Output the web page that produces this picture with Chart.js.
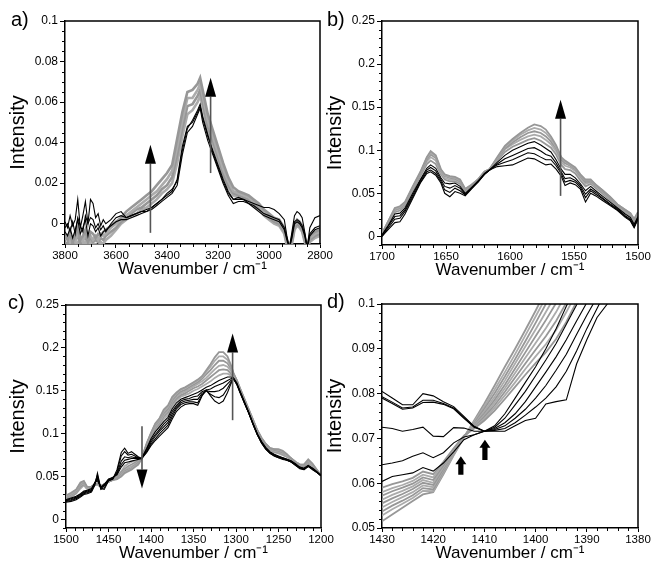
<!DOCTYPE html>
<html><head><meta charset="utf-8">
<script src="https://cdn.jsdelivr.net/npm/chart.js@4"></script>
<style>
html,body{margin:0;padding:0;background:#fff;overflow:hidden;width:653px;height:569px;}
.p{position:absolute;}
.lbl{position:absolute;font-family:'Liberation Sans',Arial,sans-serif;font-size:20px;line-height:20px;color:#000;}
</style></head><body>
<div class="p" style="left:0;top:0"><canvas id="ca" width="335" height="284"></canvas></div>
<div class="p" style="left:317px;top:0"><canvas id="cb" width="336" height="285"></canvas></div>
<div class="p" style="left:0;top:284px"><canvas id="cc" width="336" height="284"></canvas></div>
<div class="p" style="left:317px;top:283px"><canvas id="cd" width="336" height="285"></canvas></div>
<div class="lbl" style="left:11px;top:9px">a)</div>
<div class="lbl" style="left:327px;top:9px">b)</div>
<div class="lbl" style="left:8px;top:292px">c)</div>
<div class="lbl" style="left:327px;top:291px">d)</div>
<script>
// ---------- Panel a ----------
const waveA = [3800,3790,3780,3770,3760,3750,3740,3730,3720,3710,3700,3690,3680,3670,3660,3650,3640,
  3620,3600,3580,3560,3540,3520,3500,3480,3460,3440,3420,3400,3380,3360,3340,3320,3300,3280,
  3270,3260,
  3240,3220,3200,3180,3160,3140,3120,3100,3080,3060,3040,3020,3000,2980,2960,2940,
  2930,2920,2910,2900,2890,2880,2870,2860,2850,2840,
  2820,2800];
const blackA1 = [0.001,-0.002,0.004,-0.001,0.002,0.012,-0.002,0.004,0.011,0.000,0.012,0.010,0.003,0.005,-0.001,0.002,0.000,
  0.002,0.005,0.006,0.003,0.004,0.005,0.006,0.007,0.008,0.010,0.012,0.014,0.016,0.022,0.038,0.048,0.050,0.055,
  0.058,0.052,
  0.043,0.036,0.029,0.022,0.016,0.012,0.012,0.012,0.011,0.010,0.009,0.008,0.008,0.007,0.005,0.002,
  -0.006,-0.012,-0.004,0.004,0.006,0.005,0.003,-0.004,-0.012,-0.002,
  0.003,0.004];
const blackA2 = [-0.004,-0.006,-0.002,-0.007,-0.003,0.002,-0.005,-0.002,0.002,-0.006,0.000,-0.001,-0.004,-0.002,-0.006,-0.004,-0.003,
  -0.001,0.001,0.002,0.002,0.003,0.004,0.005,0.006,0.007,0.009,0.011,0.013,0.015,0.019,0.034,0.045,0.048,0.054,
  0.057,0.050,
  0.041,0.034,0.027,0.020,0.014,0.010,0.011,0.011,0.010,0.008,0.006,0.004,0.003,0.002,0.001,-0.003,
  -0.008,-0.012,-0.007,0.000,0.001,0.000,-0.002,-0.006,-0.012,-0.006,
  -0.003,-0.002];
const blackA3 = [-0.002,0.000,-0.004,0.001,-0.005,0.003,-0.001,-0.004,0.004,0.000,0.003,0.002,-0.002,0.000,-0.003,-0.001,-0.004,
  0.000,0.003,0.004,0.003,0.004,0.005,0.006,0.006,0.008,0.010,0.012,0.015,0.017,0.021,0.036,0.047,0.051,0.056,
  0.059,0.053,
  0.044,0.035,0.028,0.021,0.015,0.012,0.013,0.012,0.010,0.009,0.007,0.005,0.004,0.003,0.002,-0.002,
  -0.007,-0.012,-0.006,0.001,0.002,0.001,-0.001,-0.005,-0.012,-0.005,
  -0.002,-0.001];
const grayA1 = [-0.006,-0.008,-0.005,-0.009,-0.006,-0.002,-0.008,-0.006,-0.003,-0.008,-0.004,-0.005,-0.007,-0.005,-0.006,-0.004,-0.003,
  -0.001,0.001,0.003,0.006,0.008,0.010,0.012,0.014,0.016,0.019,0.022,0.025,0.029,0.042,0.055,0.065,0.066,0.069,
  0.072,0.066,
  0.054,0.046,0.038,0.030,0.023,0.018,0.016,0.015,0.014,0.012,0.010,0.007,0.005,0.003,0.002,-0.002,
  -0.008,-0.012,-0.007,0.000,0.002,0.001,-0.001,-0.006,-0.012,-0.006,
  -0.004,-0.003];
const grayA2 = [-0.008,-0.006,-0.009,-0.007,-0.009,-0.004,-0.007,-0.009,-0.005,-0.007,-0.006,-0.008,-0.006,-0.008,-0.005,-0.006,-0.005,
  -0.002,0.000,0.002,0.004,0.006,0.008,0.010,0.012,0.014,0.016,0.019,0.022,0.026,0.038,0.051,0.062,0.062,0.066,
  0.069,0.063,
  0.051,0.043,0.035,0.027,0.021,0.016,0.015,0.014,0.013,0.011,0.009,0.006,0.004,0.002,0.001,-0.003,
  -0.009,-0.012,-0.008,-0.001,0.001,0.000,-0.002,-0.007,-0.012,-0.007,
  -0.005,-0.004];
const grayA3 = [-0.009,-0.010,-0.008,-0.010,-0.008,-0.006,-0.010,-0.008,-0.007,-0.009,-0.007,-0.009,-0.008,-0.009,-0.007,-0.008,-0.006,
  -0.004,-0.002,0.001,0.003,0.005,0.007,0.008,0.010,0.012,0.014,0.017,0.019,0.023,0.034,0.047,0.058,0.059,0.063,
  0.066,0.060,
  0.048,0.041,0.033,0.025,0.019,0.015,0.014,0.013,0.012,0.010,0.008,0.005,0.003,0.001,0.000,-0.004,
  -0.010,-0.012,-0.009,-0.002,0.000,-0.001,-0.003,-0.008,-0.012,-0.008,
  -0.006,-0.005];
const grayA4 = [-0.010,-0.011,-0.010,-0.011,-0.010,-0.009,-0.011,-0.010,-0.009,-0.011,-0.009,-0.010,-0.010,-0.011,-0.009,-0.010,-0.008,
  -0.006,-0.003,0.000,0.002,0.004,0.005,0.007,0.008,0.010,0.012,0.015,0.017,0.020,0.030,0.043,0.054,0.056,0.060,
  0.063,0.058,
  0.046,0.039,0.031,0.024,0.018,0.014,0.013,0.012,0.011,0.009,0.007,0.004,0.002,0.000,-0.001,-0.005,
  -0.011,-0.012,-0.010,-0.003,-0.001,-0.002,-0.004,-0.009,-0.012,-0.009,
  -0.007,-0.006];
const xTicksA = [3800,3600,3400,3200,3000,2800];
const yTicksA = [0,0.02,0.04,0.06,0.08,0.1];
const arrowsA = [{x:3465, from:-0.0045, to:0.039}, {x:3229, from:0.025, to:0.072}];

// ---------- Panel b ----------
const waveB = [1700,1695,1690,1686,1682, 1676,1670,1665,1662,1658, 1654,1651,1647,1643,1639,
  1635,1630,1625,1620,1616, 1610,1604,1598,1592,1586, 1581,1576,1572,1568,1564,
  1560,1557,1553,1549,1545, 1541,1537,1533,1528,1522, 1516,1510,1506,1503,1500];
const blackB1 = [0.000,0.008,0.016,0.017,0.026, 0.044,0.062,0.073,0.075,0.071, 0.062,0.050,0.046,0.052,0.050,
  0.047,0.055,0.063,0.072,0.077, 0.081,0.082,0.083,0.087,0.091, 0.090,0.086,0.083,0.084,0.078,
  0.070,0.059,0.062,0.060,0.055, 0.040,0.050,0.047,0.042,0.036, 0.030,0.022,0.018,0.010,0.020];
const blackB2 = [0.000,0.010,0.020,0.021,0.029, 0.046,0.063,0.075,0.077,0.073, 0.064,0.054,0.051,0.056,0.053,
  0.048,0.056,0.063,0.072,0.077, 0.083,0.086,0.089,0.093,0.097, 0.096,0.092,0.089,0.089,0.082,
  0.073,0.063,0.065,0.063,0.057, 0.045,0.053,0.049,0.044,0.037, 0.031,0.023,0.019,0.011,0.021];
const blackB3 = [0.001,0.012,0.023,0.024,0.031, 0.048,0.065,0.077,0.080,0.076, 0.066,0.058,0.056,0.059,0.056,
  0.049,0.056,0.064,0.072,0.077, 0.084,0.090,0.094,0.098,0.102, 0.103,0.099,0.095,0.093,0.085,
  0.075,0.067,0.068,0.065,0.059, 0.049,0.055,0.051,0.045,0.038, 0.032,0.024,0.020,0.012,0.022];
const blackB4 = [0.002,0.013,0.026,0.027,0.033, 0.050,0.066,0.079,0.083,0.079, 0.068,0.062,0.061,0.062,0.058,
  0.050,0.057,0.064,0.073,0.077, 0.086,0.094,0.100,0.104,0.108, 0.110,0.106,0.102,0.098,0.089,
  0.078,0.072,0.072,0.068,0.061, 0.053,0.058,0.053,0.047,0.040, 0.033,0.026,0.022,0.014,0.023];
const grayB1 = [0.003,0.018,0.033,0.035,0.040, 0.058,0.075,0.092,0.099,0.094, 0.078,0.072,0.070,0.069,0.066,
  0.055,0.060,0.066,0.075,0.078, 0.092,0.105,0.113,0.120,0.126, 0.130,0.128,0.124,0.116,0.106,
  0.092,0.088,0.084,0.080,0.072, 0.066,0.066,0.060,0.054,0.046, 0.037,0.031,0.027,0.020,0.028];
const grayB2 = [0.003,0.018,0.032,0.034,0.039, 0.057,0.074,0.091,0.097,0.093, 0.077,0.071,0.069,0.068,0.065,
  0.055,0.060,0.066,0.075,0.078, 0.091,0.104,0.111,0.118,0.123, 0.126,0.124,0.120,0.113,0.104,
  0.091,0.087,0.083,0.079,0.071, 0.065,0.065,0.060,0.054,0.046, 0.037,0.031,0.027,0.020,0.028];
const grayB3 = [0.003,0.017,0.031,0.033,0.038, 0.056,0.073,0.089,0.095,0.091, 0.076,0.070,0.068,0.067,0.064,
  0.054,0.059,0.066,0.075,0.078, 0.090,0.102,0.109,0.115,0.120, 0.122,0.120,0.116,0.110,0.102,
  0.089,0.085,0.082,0.078,0.070, 0.063,0.064,0.059,0.053,0.045, 0.036,0.030,0.026,0.019,0.027];
const grayB4 = [0.002,0.016,0.030,0.032,0.037, 0.055,0.072,0.087,0.092,0.088, 0.074,0.068,0.066,0.066,0.063,
  0.053,0.059,0.065,0.074,0.078, 0.089,0.101,0.107,0.112,0.116, 0.118,0.116,0.112,0.107,0.099,
  0.086,0.082,0.080,0.076,0.068, 0.061,0.063,0.058,0.052,0.044, 0.035,0.029,0.025,0.018,0.026];
const grayB5 = [0.002,0.015,0.028,0.030,0.036, 0.053,0.070,0.084,0.088,0.084, 0.072,0.066,0.064,0.064,0.061,
  0.052,0.058,0.065,0.074,0.077, 0.088,0.098,0.104,0.108,0.112, 0.114,0.111,0.107,0.103,0.095,
  0.083,0.078,0.077,0.073,0.065, 0.058,0.061,0.056,0.050,0.042, 0.034,0.028,0.024,0.016,0.025];
const xTicksB = [1700,1650,1600,1550,1500];
const yTicksB = [0,0.05,0.1,0.15,0.2,0.25];
const arrowsB = [{x:1560.5, from:0.047, to:0.1586}];

// ---------- Panel c ----------
const waveC = [1500,1494,1488,1483,1479, 1475,1470,1466,1463,1459, 1455,1450,1445,1440,1435,
  1431,1427,1423,1419,1415, 1411,1405,1400,1395,1390, 1385,1380,1375,1370,1365,
  1360,1355,1350,1345,1340, 1335,1330,1325,1320,1315, 1310,1306,1303,1299,1295,
  1290,1285,1280,1275,1270, 1265,1260,1255,1250,1245, 1240,1235,1230,1225,1220, 1215,1210,1205,1200];
const blackC1 = [0.020,0.021,0.023,0.026,0.029, 0.030,0.032,0.040,0.054,0.036, 0.035,0.045,0.047,0.058,0.078,
  0.083,0.077,0.079,0.076,0.073, 0.071,0.078,0.086,0.092,0.097, 0.102,0.107,0.117,0.126,0.131,
  0.134,0.135,0.135,0.133,0.144, 0.151,0.144,0.138,0.135,0.138, 0.148,0.158,0.164,0.157,0.147,
  0.135,0.124,0.111,0.099,0.089, 0.082,0.077,0.074,0.072,0.070, 0.069,0.067,0.063,0.059,0.058, 0.062,0.058,0.055,0.051];
const blackC2 = [0.021,0.022,0.024,0.027,0.030, 0.031,0.033,0.042,0.052,0.035, 0.037,0.045,0.047,0.056,0.074,
  0.079,0.075,0.076,0.074,0.072, 0.071,0.079,0.088,0.094,0.100, 0.105,0.110,0.120,0.129,0.134,
  0.136,0.137,0.137,0.136,0.145, 0.150,0.146,0.143,0.142,0.145, 0.153,0.160,0.164,0.158,0.148,
  0.136,0.124,0.111,0.099,0.089, 0.082,0.077,0.074,0.072,0.071, 0.069,0.067,0.063,0.060,0.058, 0.062,0.059,0.055,0.051];
const blackC3 = [0.022,0.023,0.025,0.028,0.031, 0.032,0.034,0.043,0.049,0.036, 0.039,0.046,0.048,0.054,0.068,
  0.073,0.072,0.073,0.072,0.072, 0.071,0.080,0.090,0.097,0.103, 0.108,0.113,0.123,0.131,0.136,
  0.138,0.139,0.140,0.140,0.147, 0.150,0.149,0.149,0.150,0.153, 0.158,0.162,0.164,0.158,0.148,
  0.136,0.124,0.111,0.099,0.090, 0.083,0.078,0.075,0.073,0.071, 0.069,0.067,0.064,0.060,0.059, 0.062,0.059,0.055,0.051];
const blackC4 = [0.022,0.024,0.026,0.029,0.032, 0.033,0.035,0.043,0.047,0.037, 0.040,0.047,0.049,0.053,0.064,
  0.069,0.070,0.071,0.071,0.071, 0.071,0.082,0.092,0.099,0.105, 0.111,0.116,0.126,0.133,0.138,
  0.140,0.141,0.143,0.144,0.149, 0.151,0.152,0.155,0.157,0.159, 0.162,0.164,0.165,0.158,0.148,
  0.136,0.124,0.112,0.100,0.090, 0.083,0.078,0.075,0.073,0.072, 0.070,0.068,0.064,0.061,0.059, 0.063,0.059,0.055,0.051];
const blackC5 = [0.023,0.025,0.027,0.030,0.033, 0.034,0.036,0.043,0.045,0.038, 0.041,0.047,0.049,0.052,0.061,
  0.066,0.067,0.068,0.069,0.070, 0.071,0.083,0.094,0.102,0.108, 0.114,0.119,0.129,0.136,0.140,
  0.142,0.144,0.146,0.148,0.151, 0.154,0.156,0.159,0.162,0.164, 0.166,0.166,0.165,0.159,0.149,
  0.137,0.125,0.112,0.100,0.091, 0.084,0.079,0.076,0.074,0.072, 0.070,0.068,0.065,0.061,0.060, 0.063,0.060,0.056,0.051];
const grayC1 = [0.028,0.031,0.035,0.043,0.045, 0.038,0.038,0.041,0.042,0.039, 0.041,0.044,0.046,0.047,0.050,
  0.054,0.056,0.058,0.061,0.064, 0.071,0.089,0.101,0.112,0.118, 0.128,0.133,0.143,0.148,0.152,
  0.154,0.157,0.160,0.163,0.167, 0.174,0.181,0.189,0.195,0.195, 0.190,0.180,0.171,0.162,0.152,
  0.140,0.128,0.116,0.104,0.095, 0.088,0.083,0.082,0.082,0.080, 0.076,0.071,0.067,0.064,0.064, 0.070,0.065,0.058,0.051];
const grayC2 = [0.027,0.030,0.034,0.042,0.044, 0.037,0.038,0.041,0.042,0.039, 0.041,0.044,0.046,0.047,0.051,
  0.055,0.057,0.059,0.062,0.065, 0.071,0.088,0.100,0.111,0.117, 0.126,0.131,0.141,0.147,0.151,
  0.153,0.156,0.159,0.162,0.166, 0.172,0.178,0.185,0.190,0.190, 0.186,0.178,0.170,0.162,0.152,
  0.140,0.128,0.116,0.104,0.095, 0.088,0.083,0.082,0.081,0.079, 0.075,0.071,0.067,0.064,0.064, 0.069,0.064,0.058,0.051];
const grayC3 = [0.026,0.029,0.033,0.041,0.043, 0.037,0.038,0.041,0.042,0.039, 0.041,0.044,0.046,0.048,0.052,
  0.056,0.058,0.060,0.063,0.066, 0.071,0.088,0.100,0.110,0.116, 0.124,0.129,0.139,0.145,0.149,
  0.151,0.154,0.157,0.160,0.164, 0.169,0.174,0.180,0.185,0.185, 0.182,0.176,0.169,0.162,0.152,
  0.140,0.128,0.116,0.104,0.095, 0.088,0.083,0.081,0.080,0.078, 0.075,0.071,0.067,0.064,0.063, 0.068,0.064,0.058,0.051];
const grayC4 = [0.026,0.028,0.032,0.040,0.042, 0.036,0.038,0.041,0.041,0.038, 0.041,0.044,0.046,0.048,0.053,
  0.057,0.060,0.062,0.064,0.067, 0.071,0.087,0.099,0.108,0.114, 0.122,0.127,0.137,0.143,0.147,
  0.149,0.152,0.155,0.158,0.161, 0.165,0.170,0.175,0.179,0.180, 0.178,0.173,0.168,0.161,0.151,
  0.139,0.127,0.115,0.103,0.094, 0.087,0.082,0.080,0.079,0.077, 0.074,0.071,0.067,0.064,0.063, 0.067,0.063,0.057,0.051];
const grayC5 = [0.025,0.027,0.031,0.038,0.041, 0.036,0.037,0.040,0.041,0.038, 0.041,0.044,0.046,0.049,0.055,
  0.059,0.062,0.064,0.066,0.068, 0.071,0.086,0.098,0.106,0.112, 0.120,0.125,0.135,0.141,0.145,
  0.147,0.150,0.153,0.155,0.158, 0.162,0.166,0.170,0.174,0.175, 0.174,0.170,0.167,0.161,0.151,
  0.139,0.127,0.115,0.103,0.094, 0.087,0.082,0.079,0.078,0.076, 0.073,0.070,0.066,0.063,0.062, 0.066,0.063,0.057,0.051];
const grayC6 = [0.024,0.026,0.030,0.036,0.040, 0.035,0.037,0.040,0.041,0.038, 0.041,0.044,0.047,0.050,0.056,
  0.062,0.065,0.067,0.068,0.069, 0.071,0.084,0.096,0.104,0.110, 0.117,0.122,0.132,0.139,0.143,
  0.145,0.147,0.150,0.152,0.155, 0.158,0.161,0.165,0.168,0.170, 0.170,0.168,0.166,0.160,0.150,
  0.138,0.126,0.114,0.102,0.093, 0.086,0.081,0.078,0.077,0.075, 0.073,0.070,0.066,0.063,0.062, 0.065,0.062,0.057,0.051];
const xTicksC = [1500,1450,1400,1350,1300,1250,1200];
const yTicksC = [0,0.05,0.1,0.15,0.2,0.25];
const arrowsC = [{x:1304, from:0.1157, to:0.2168}, {x:1410.6, from:0.1087, to:0.0361}];

// ---------- Panel d ----------
const waveD = [1430,1428,1426,1424,1422,1420,1418,1416,1414,1412,1410,1408,1406,1404,1402,1400,1398,1396,1394,1392,1390,1388,1386,1384];
const blackD1 = [0.0805,0.0790,0.0775,0.0775,0.0800,0.0795,0.0782,0.0771,0.0749,0.0727,0.0716,0.0716,0.0716,0.0728,0.0740,0.0745,0.0777,0.0782,0.0786,0.0866,0.0920,0.0970,0.1000,0.1040];
const blackD2 = [0.0793,0.0781,0.0768,0.0770,0.0785,0.0785,0.0778,0.0768,0.0747,0.0726,0.0716,0.0718,0.0722,0.0735,0.0752,0.0770,0.0790,0.0815,0.0850,0.0895,0.0945,0.0990,0.1035,0.1080];
const blackD3 = [0.0790,0.0778,0.0765,0.0768,0.0780,0.0781,0.0776,0.0766,0.0745,0.0725,0.0716,0.0720,0.0728,0.0745,0.0765,0.0790,0.0818,0.0852,0.0888,0.0932,0.0975,0.1015,0.1060,0.1100];
const blackD4 = [0.0725,0.0722,0.0716,0.0720,0.0725,0.0705,0.0704,0.0724,0.0723,0.0716,0.0716,0.0722,0.0735,0.0755,0.0782,0.0815,0.0848,0.0882,0.0920,0.0962,0.1003,0.1045,0.1090,0.1130];
const blackD5 = [0.0641,0.0645,0.0650,0.0660,0.0668,0.0657,0.0668,0.0690,0.0703,0.0708,0.0716,0.0725,0.0745,0.0775,0.0805,0.0840,0.0875,0.0912,0.0955,0.0998,0.1040,0.1080];
const blackD6 = [0.0604,0.0615,0.0619,0.0623,0.0635,0.0627,0.0645,0.0670,0.0697,0.0708,0.0716,0.0728,0.0755,0.0790,0.0825,0.0860,0.0900,0.0945,0.0995,0.1040,0.1080];
const grayD1 = [0.0590,0.0598,0.0604,0.0612,0.0626,0.0620,0.0648,0.0678,0.0706,0.0722,0.0740,0.0762,0.0788,0.0815,0.0842,0.0868,0.0892,0.0922,0.0960,0.1005,0.1050];
const grayD2 = [0.0580,0.0589,0.0596,0.0605,0.0619,0.0613,0.0644,0.0676,0.0705,0.0723,0.0744,0.0768,0.0796,0.0825,0.0855,0.0883,0.0910,0.0942,0.0982,0.1025,0.1070];
const grayD3 = [0.0572,0.0582,0.0590,0.0599,0.0613,0.0607,0.0640,0.0674,0.0705,0.0725,0.0748,0.0774,0.0804,0.0836,0.0867,0.0898,0.0928,0.0962,0.1003,0.1045];
const grayD4 = [0.0563,0.0574,0.0583,0.0593,0.0607,0.0601,0.0636,0.0672,0.0704,0.0727,0.0752,0.0780,0.0812,0.0846,0.0880,0.0913,0.0946,0.0982,0.1024];
const grayD5 = [0.0555,0.0566,0.0576,0.0587,0.0601,0.0596,0.0633,0.0670,0.0704,0.0729,0.0756,0.0786,0.0820,0.0856,0.0892,0.0928,0.0964,0.1002,0.1044];
const grayD6 = [0.0546,0.0558,0.0569,0.0580,0.0595,0.0591,0.0630,0.0668,0.0704,0.0731,0.0761,0.0793,0.0829,0.0867,0.0905,0.0943,0.0982,0.1022];
const grayD7 = [0.0537,0.0550,0.0561,0.0573,0.0589,0.0586,0.0627,0.0666,0.0703,0.0734,0.0766,0.0801,0.0838,0.0877,0.0917,0.0958,0.1000,0.1042];
const grayD8 = [0.0528,0.0542,0.0554,0.0567,0.0583,0.0582,0.0624,0.0664,0.0703,0.0737,0.0772,0.0809,0.0848,0.0888,0.0930,0.0972,0.1015,0.1060];
const grayD9 = [0.0515,0.0530,0.0545,0.0560,0.0575,0.0580,0.0620,0.0662,0.0702,0.0740,0.0778,0.0818,0.0860,0.0900,0.0942,0.0985,0.1030,0.1075];
const xTicksD = [1430,1420,1410,1400,1390,1380];
const yTicksD = [0.05,0.06,0.07,0.08,0.09,0.1];
const arrowsD = [{x:1414.6, from:0.0619, to:0.0660, thick:true}, {x:1409.9, from:0.0652, to:0.0697, thick:true}];

// ---------- drawing ----------
const FONT = "'Liberation Sans', Arial, Helvetica, sans-serif";
Chart.defaults.font.family = FONT;
Chart.defaults.color = '#000';

const pts = (xs, ys) => ys.map((y, i) => ({x: xs[i], y}));
const fmt = v => String(+(+v).toFixed(4));

function buildSets(xs, blacks, grays, grayWidth) {
  const ds = [];
  blacks.forEach(ys => ds.push({data: pts(xs, ys), borderColor: '#000', borderWidth: 1.1, clip: 0}));
  grays.forEach((ys, i) => ds.push({data: pts(xs, ys), borderColor: i % 2 ? '#ababab' : '#979797', borderWidth: grayWidth, clip: 0}));
  return ds;
}

const framePlugin = {
  id: 'frame',
  afterDatasetsDraw(chart) {
    const o = chart.options.plugins.frame;
    const {ctx, scales: {x, y}} = chart;
    ctx.save();
    (o.arrows || []).forEach(ar => {
      const px = x.getPixelForValue(ar.x);
      const p0 = y.getPixelForValue(ar.from), p1 = y.getPixelForValue(ar.to);
      const dir = p1 < p0 ? -1 : 1;
      ctx.fillStyle = '#000';
      if (ar.thick) {
        const hl = 8, hw = 5.5, sw = 2.6;
        ctx.beginPath();
        ctx.moveTo(px - sw, p0); ctx.lineTo(px - sw, p1 - dir * hl); ctx.lineTo(px - hw, p1 - dir * hl);
        ctx.lineTo(px, p1); ctx.lineTo(px + hw, p1 - dir * hl); ctx.lineTo(px + sw, p1 - dir * hl);
        ctx.lineTo(px + sw, p0); ctx.closePath(); ctx.fill();
      } else {
        const hl = 19, hw = 5.5;
        ctx.strokeStyle = '#555'; ctx.lineWidth = 1.6;
        ctx.beginPath(); ctx.moveTo(px, p0); ctx.lineTo(px, p1 - dir * hl); ctx.stroke();
        ctx.beginPath(); ctx.moveTo(px, p1); ctx.lineTo(px - hw, p1 - dir * hl); ctx.lineTo(px + hw, p1 - dir * hl);
        ctx.closePath(); ctx.fill();
      }
    });
    ctx.restore();
  },
  afterDraw(chart) {
    const o = chart.options.plugins.frame;
    const {ctx, chartArea: a, scales: {x, y}} = chart;
    ctx.save();
    ctx.strokeStyle = '#000';
    ctx.lineWidth = 1;
    const xMaj = new Set(o.xTicks.map(v => v.toFixed(4)));
    const nx = Math.round((x.max - x.min) / o.xMinor);
    ctx.beginPath();
    for (let i = 0; i <= nx; i++) {
      const v = x.min + i * o.xMinor;
      if (xMaj.has(v.toFixed(4))) continue;
      const px = Math.round(x.getPixelForValue(v)) + 0.5;
      ctx.moveTo(px, a.bottom); ctx.lineTo(px, a.bottom + 3);
    }
    const yMaj = new Set(o.yTicks.map(v => v.toFixed(4)));
    const ny = Math.round((y.max - y.min) / o.yMinor);
    for (let i = 0; i <= ny; i++) {
      const v = y.min + i * o.yMinor;
      if (yMaj.has(v.toFixed(4))) continue;
      const py = Math.round(y.getPixelForValue(v)) + 0.5;
      ctx.moveTo(a.left, py); ctx.lineTo(a.left - 3, py);
    }
    ctx.stroke();
    ctx.lineWidth = 1.5;
    ctx.beginPath();
    ctx.moveTo(a.left, a.top); ctx.lineTo(a.right, a.top); ctx.lineTo(a.right, a.bottom);
    ctx.stroke();
    ctx.restore();
  }
};

function makeChart(id, c) {
  new Chart(document.getElementById(id), {
    type: 'line',
    data: {datasets: c.datasets},
    options: {
      responsive: false, animation: false, events: [],
      layout: {padding: {left: 0, right: 15, top: 21, bottom: 0}},
      elements: {point: {radius: 0}, line: {tension: 0}},
      plugins: {
        legend: {display: false}, tooltip: {enabled: false},
        frame: {arrows: c.arrows, xTicks: c.xTicks, yTicks: c.yTicks, xMinor: c.xMinor, yMinor: c.yMinor}
      },
      scales: {
        x: {
          type: 'linear', reverse: true, min: c.xMin, max: c.xMax,
          afterBuildTicks: s => { s.ticks = c.xTicks.map(v => ({value: v})); },
          afterFit: s => { s.height = 40; },
          ticks: {autoSkip: false, maxRotation: 0, padding: 1, font: {size: 11.5}, color: '#000', callback: v => fmt(v)},
          grid: {drawOnChartArea: false, drawTicks: true, tickLength: 4, color: '#000', lineWidth: 1},
          border: {display: true, color: '#000', width: 1.5},
          title: {display: true, text: 'Wavenumber / cm⁻¹', font: {size: 17}, color: '#000', padding: {top: 0, bottom: 4}}
        },
        y: {
          type: 'linear', min: c.yMin, max: c.yMax,
          afterBuildTicks: s => { s.ticks = c.yTicks.map(v => ({value: v})); },
          afterFit: s => { s.width = c.yWidth; },
          ticks: {autoSkip: false, padding: 2, font: {size: 12}, color: '#000', callback: v => fmt(v)},
          grid: {drawOnChartArea: false, drawTicks: true, tickLength: 5, color: '#000', lineWidth: 1},
          border: {display: true, color: '#000', width: 1.5},
          title: {display: true, text: 'Intensity', font: {size: 20}, color: '#000', padding: {top: 6, bottom: 0}}
        }
      }
    },
    plugins: [framePlugin]
  });
}

makeChart('ca', {
  datasets: buildSets(waveA, [blackA1, blackA2, blackA3], [grayA1, grayA2, grayA3, grayA4], 2.6),
  xMin: 2800, xMax: 3800, yMin: -0.01, yMax: 0.1, xTicks: xTicksA, yTicks: yTicksA,
  xMinor: 50, yMinor: 0.005, yWidth: 65, arrows: arrowsA
});
makeChart('cb', {
  datasets: buildSets(waveB, [blackB1, blackB2, blackB3, blackB4], [grayB1, grayB2, grayB3, grayB4, grayB5], 1.8),
  xMin: 1500, xMax: 1700, yMin: -0.01, yMax: 0.25, xTicks: xTicksB, yTicks: yTicksB,
  xMinor: 10, yMinor: 0.01, yWidth: 65, arrows: arrowsB
});
makeChart('cc', {
  datasets: buildSets(waveC, [blackC1, blackC2, blackC3, blackC4, blackC5], [grayC1, grayC2, grayC3, grayC4, grayC5, grayC6], 1.8),
  xMin: 1200, xMax: 1500, yMin: -0.01, yMax: 0.25, xTicks: xTicksC, yTicks: yTicksC,
  xMinor: 10, yMinor: 0.01, yWidth: 66, arrows: arrowsC
});
makeChart('cd', {
  datasets: buildSets(waveD, [blackD1, blackD2, blackD3, blackD4, blackD5, blackD6],
    [grayD1, grayD2, grayD3, grayD4, grayD5, grayD6, grayD7, grayD8, grayD9], 1.8),
  xMin: 1380, xMax: 1430, yMin: 0.05, yMax: 0.1, xTicks: xTicksD, yTicks: yTicksD,
  xMinor: 2, yMinor: 0.002, yWidth: 65, arrows: arrowsD
});
</script>
</body></html>
